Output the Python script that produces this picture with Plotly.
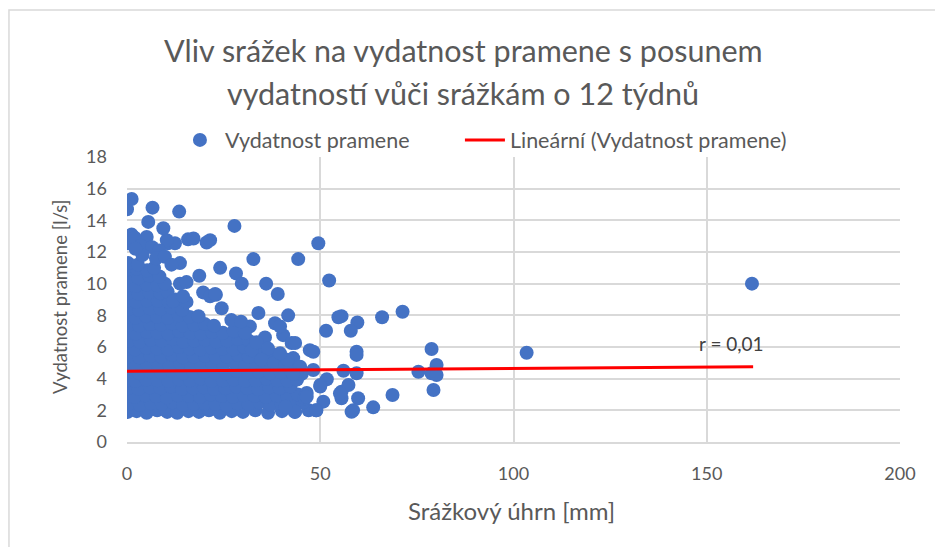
import plotly.graph_objects as go

# Srážkový úhrn [mm] vs. vydatnost pramene [l/s]
# hustý shluk po řádcích
precip = [
    0.2, 2.5, 5.1, 7.8, 10.4, 13.0, 15.9, 18.6, 21.2, 24.0, 27.1, 30.0, 33.2, 36.5, 40.1, 43.4, 47.0,
    0.5, 3.3, 6.2, 9.0, 11.8, 14.5, 17.3, 20.1, 22.9, 25.8, 28.6, 31.4, 34.3, 37.2, 40.0, 42.8, 45.5,
    0.1, 2.0, 4.8, 7.5, 10.3, 13.2, 16.0, 18.9, 21.7, 24.5, 27.4, 30.2, 33.0, 35.9, 38.7, 41.5, 44.2,
    0.3, 3.0, 5.9, 8.7, 11.4, 14.2, 17.1, 19.9, 22.6, 25.4, 28.3, 31.1, 34.0, 36.8, 39.5, 42.3,
    0.0, 2.2, 5.0, 7.9, 10.7, 13.5, 16.3, 19.1, 21.9, 24.8, 27.6, 30.5, 33.3, 36.1, 38.9, 41.6, 44.0,
    0.4, 3.1, 6.0, 8.8, 11.6, 14.4, 17.2, 20.0, 22.8, 25.6, 28.4, 31.3, 34.1, 37.0, 39.8, 42.5, 45.2,
    0.1, 2.4, 5.2, 8.0, 10.9, 13.7, 16.5, 19.3, 22.1, 24.9, 27.8, 30.6, 33.4, 36.2, 39.0, 41.5,
    0.3, 3.2, 6.1, 8.9, 11.7, 14.5, 17.3, 20.2, 23.0, 25.8, 28.7, 31.5, 34.3, 37.0,
    0.0, 2.1, 5.0, 7.8, 10.6, 13.4, 16.2, 19.0, 21.9, 24.7, 27.5, 30.3, 33.5,
    0.5, 3.3, 6.2, 9.0, 11.8, 14.6, 17.4, 20.3, 23.1, 25.9, 28.8, 31.5,
    0.1, 2.3, 5.1, 7.9, 10.7, 13.5, 16.4, 19.2, 22.0, 24.8, 27.6,
    0.4, 3.2, 6.0, 8.8, 11.6, 14.4, 17.3, 20.1, 22.5,
    0.0, 2.2, 5.0, 7.8, 10.6, 13.4, 16.2, 18.5,
    0.3, 3.1, 5.9, 8.7, 11.5, 14.3,
    0.1, 2.4, 5.2, 8.0, 10.8, 12.5,
    0.4, 3.0, 5.8, 8.6, 10.5,
    0.0, 2.3, 5.1, 7.9, 9.8,
    0.2, 3.0, 5.8, 8.4,
    0.0, 2.5, 5.2, 7.0,
    0.3, 2.8,
    # horní rozptýlené body
    0.8, 5.1, 10.6, 15.8, 17.2, 20.6, 21.5, 12.4, 10.3, 13.7, 18.7, 13.7, 15.4, 19.7, 23.0, 21.5,
    11.9, 15.4, 24.1, 28.2, 29.7, 36.0, 39.0, 32.7, 44.3, 49.5, 52.3, 27.8, 13.5, 6.6, 0.0, 1.2,
    5.5, 9.4, 1.2, 0.0, 2.0, 3.5, 6.5, 8.3, 4.0, 7.5, 9.8, 11.5, 2.2, 22.8, 14.5,
    # střední a pravé rozptýlené body
    34.0, 41.7, 38.3, 24.5, 27.0, 31.8, 35.7, 40.4, 42.6, 47.3, 32.3, 38.7,
    55.5, 54.7, 59.6, 57.9, 66.0, 71.3, 51.5, 78.8, 48.2, 59.4, 59.4, 103.4,
    80.1, 75.4, 78.8, 80.1, 79.3, 68.7, 63.7, 58.1, 59.8, 55.5, 55.5, 57.3,
    59.4, 56.0, 51.7, 50.8, 48.9, 43.5, 46.0, 48.2, 50.0, 55.1, 58.5, 161.7,
    30.5, 33.5, 36.5, 29.5, 34.8, 38.0, 41.0, 43.0, 44.8, 46.5, 41.5, 43.0,
    39.6, 43.5, 39.6, 41.0, 46.5, 49.0, 50.0,
]
spring_yield = [
    1.9, 1.95, 1.85, 2.0, 1.9, 1.85, 1.95, 1.9, 2.0, 1.85, 1.95, 1.9, 2.0, 1.85, 1.95, 1.9, 2.0,
    2.4, 2.35, 2.45, 2.4, 2.5, 2.35, 2.4, 2.45, 2.4, 2.3, 2.45, 2.4, 2.5, 2.35, 2.4, 2.45, 2.5,
    2.9, 2.85, 2.95, 2.9, 2.8, 2.95, 2.9, 2.85, 3.0, 2.9, 2.85, 2.95, 2.9, 2.85, 2.95, 2.9, 3.0,
    3.4, 3.35, 3.45, 3.4, 3.5, 3.35, 3.4, 3.45, 3.35, 3.4, 3.5, 3.4, 3.35, 3.45, 3.4, 3.5,
    3.9, 3.85, 3.95, 3.9, 3.85, 3.95, 3.9, 4.0, 3.85, 3.9, 3.95, 3.85, 3.9, 4.0, 3.9, 3.85, 3.95,
    4.4, 4.35, 4.45, 4.4, 4.5, 4.35, 4.4, 4.45, 4.4, 4.35, 4.5, 4.4, 4.45, 4.35, 4.4, 4.5, 4.3,
    4.9, 4.85, 4.95, 4.9, 4.85, 5.0, 4.9, 4.85, 4.95, 4.9, 5.0, 4.85, 4.9, 4.95, 4.85, 4.9,
    5.4, 5.35, 5.45, 5.4, 5.5, 5.35, 5.4, 5.45, 5.35, 5.4, 5.5, 5.4, 5.35, 5.45,
    5.9, 5.85, 5.95, 5.9, 5.85, 6.0, 5.9, 5.85, 5.95, 5.9, 5.85, 6.0, 5.9,
    6.4, 6.35, 6.45, 6.4, 6.5, 6.35, 6.4, 6.45, 6.35, 6.4, 6.5, 6.4,
    6.9, 6.85, 6.95, 6.9, 6.85, 7.0, 6.9, 6.85, 6.95, 6.9, 7.0,
    7.4, 7.35, 7.45, 7.4, 7.5, 7.35, 7.4, 7.45, 7.35,
    7.9, 7.85, 7.95, 7.9, 7.85, 8.0, 7.9, 7.95,
    8.4, 8.35, 8.45, 8.4, 8.5, 8.35,
    8.9, 8.85, 8.95, 8.9, 8.85, 9.0,
    9.4, 9.35, 9.45, 9.4, 9.5,
    9.9, 9.85, 9.95, 9.9, 10.0,
    10.4, 10.35, 10.5, 10.45,
    10.9, 10.95, 10.85, 11.0,
    11.3, 11.2,
    12.55, 12.95, 12.55, 12.8, 12.85, 12.6, 12.75, 12.55, 12.75, 11.3, 10.5, 10.0, 10.1, 9.45, 9.3, 9.2,
    8.9, 8.85, 11.0, 10.65, 10.0, 10.0, 9.35, 11.55, 11.55, 12.55, 10.2, 13.65, 14.55, 14.8, 14.7, 15.35,
    13.9, 13.5, 13.1, 12.55, 12.9, 12.4, 12.3, 12.1, 11.8, 11.6, 11.7, 11.2, 12.2, 9.35, 9.2,
    8.15, 8.0, 7.5, 8.45, 7.7, 7.3, 6.6, 6.75, 6.25, 5.8, 5.8, 5.5,
    7.95, 7.88, 7.55, 7.03, 7.88, 8.23, 7.03, 5.87, 5.7, 5.7, 5.5, 5.64,
    4.86, 4.44, 4.34, 4.23, 3.28, 2.97, 2.19, 1.91, 2.76, 2.76, 3.18, 3.6,
    4.34, 4.5, 3.96, 2.55, 2.0, 1.91, 2.76, 4.55, 3.6, 3.07, 2.0, 10.0,
    6.9, 6.3, 5.9, 7.6, 5.2, 5.0, 4.9, 5.3, 4.75, 3.1, 5.2, 4.3,
    7.3, 6.25, 5.6, 2.23, 2.86, 2.0, 3.5,
]

# lineární trend (koncové body přímky z Excelu)
trend_x = [0, 162]
trend_y = [4.47, 4.76]
r_label = "r = 0,01"

title_lines = ["Vliv srážek na vydatnost pramene s posunem", "vydatností vůči srážkám o 12 týdnů"]
x_ticks = [0, 50, 100, 150, 200]
y_ticks = [0, 2, 4, 6, 8, 10, 12, 14, 16, 18]

GRAY = "#595959"
FONT = "Lato"

fig = go.Figure()
fig.add_trace(go.Scatter(x=precip, y=spring_yield, mode="markers", name="Vydatnost pramene",
                         legendwidth=230,
                         marker=dict(color="#4472C4", size=14, line=dict(width=0))))
fig.add_trace(go.Scatter(x=trend_x, y=trend_y, mode="lines", name="Lineární (Vydatnost pramene)",
                         legendwidth=340,
                         line=dict(color="#FF0000", width=3)))

fig.update_layout(
    width=935, height=547,
    margin=dict(l=127, r=35, t=157, b=105),
    paper_bgcolor="white", plot_bgcolor="white",
    font=dict(family=FONT, color=GRAY, size=18),
    legend=dict(orientation="h", x=0.062, y=1.06, xanchor="left", yanchor="middle",
                font=dict(size=21.5, color=GRAY), bgcolor="rgba(0,0,0,0)", itemwidth=40),
    showlegend=True,
)
fig.update_xaxes(range=[0, 200], tickvals=x_ticks, showgrid=True, gridcolor="#D9D9D9", gridwidth=2,
                 zeroline=False, showline=True, linecolor="#D9D9D9", linewidth=2, mirror=False,
                 ticklabelstandoff=14, tickfont=dict(size=18, color=GRAY))
fig.update_yaxes(range=[0, 18], tickvals=y_ticks, showgrid=True, gridcolor="#D9D9D9", gridwidth=2,
                 zeroline=False, showline=False, ticklabelstandoff=19, tickfont=dict(size=18, color=GRAY))

# nadpis (dva řádky)
fig.add_annotation(text=title_lines[0], xref="paper", yref="paper", x=0.4347, y=1.3754,
                   xanchor="center", yanchor="middle", showarrow=False, font=dict(size=30.5, color=GRAY))
fig.add_annotation(text=title_lines[1], xref="paper", yref="paper", x=0.4347, y=1.2246,
                   xanchor="center", yanchor="middle", showarrow=False, font=dict(size=30.5, color=GRAY))
# popisky os
fig.add_annotation(text="Srážkový úhrn [mm]", xref="paper", yref="paper", x=0.4968, y=-0.242,
                   xanchor="center", yanchor="middle", showarrow=False, font=dict(size=24, color=GRAY))
fig.add_annotation(text="Vydatnost pramene [l/s]", xref="paper", yref="paper", x=-0.0867, y=0.509,
                   xanchor="center", yanchor="middle", textangle=-90, showarrow=False,
                   font=dict(size=18.5, color=GRAY))
# korelační koeficient
fig.add_annotation(text=r_label, x=147.5, y=6.25, xanchor="left", showarrow=False,
                   font=dict(size=19, color="#404040"))

# rámeček grafu
fig.add_shape(type="rect", xref="paper", yref="paper", x0=-0.1527, y0=-0.4, x1=1.1, y1=1.516,
              line=dict(color="#D9D9D9", width=1.5), layer="below")

fig.write_html("out.html", config={"displayModeBar": False},
               post_script="document.body.style.margin='0';")
